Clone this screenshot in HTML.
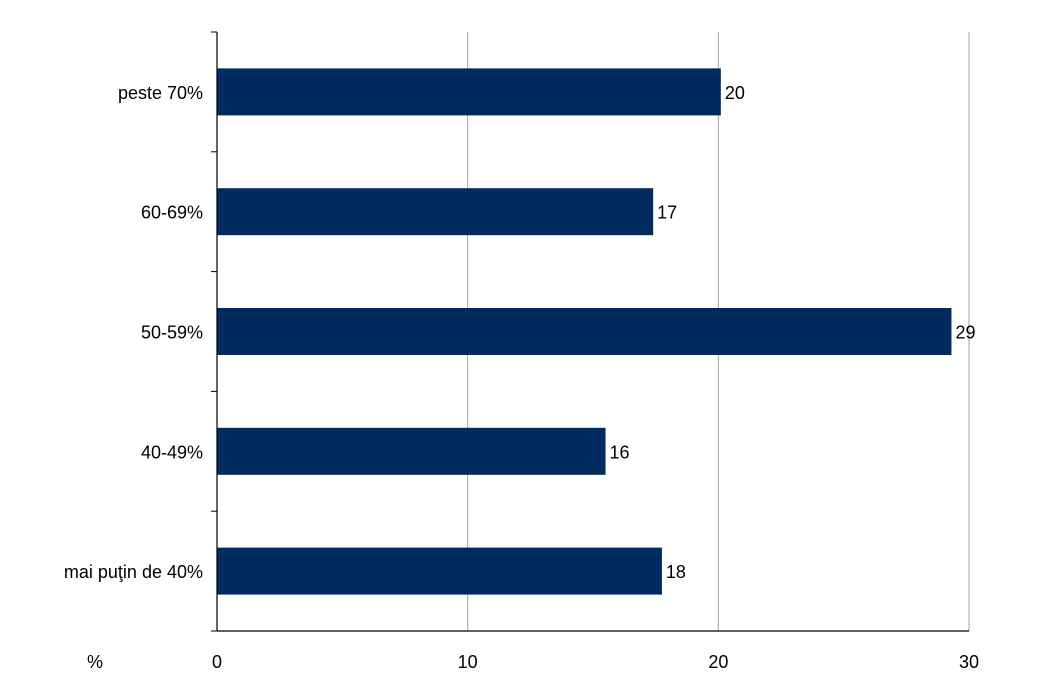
<!DOCTYPE html>
<html><head><meta charset="utf-8"><style>
body{margin:0;background:#fff}
svg{display:block;font-family:"Liberation Sans",sans-serif}
</style></head><body>
<svg id="chart" width="1050" height="700"></svg>
<script>
const categories=["peste 70%","60-69%","50-59%","40-49%","mai puţin de 40%"];
const values=[20.1,17.4,29.3,15.5,17.75];
const valueLabels=["20","17","29","16","18"];
const xTicks=[0,10,20,30];
const svg=document.getElementById('chart');
const NS='http://www.w3.org/2000/svg';
const x0=217,x1=969,yTop=32,yBot=631,xmax=30;
const xs=v=>x0+(x1-x0)*v/xmax;
const band=(yBot-yTop)/categories.length;
const yc=i=>yTop+band*(i+0.5);
function mk(t,a,txt){const e=document.createElementNS(NS,t);for(const k in a)e.setAttribute(k,a[k]);if(txt!==undefined)e.textContent=txt;svg.appendChild(e);return e;}
xTicks.forEach(t=>{
  if(t>0){const g=mk('line',{x1:xs(t),x2:xs(t),y1:yTop,y2:yBot,stroke:'#a0a0a0','stroke-width':1});
  
  }
  const l=mk('text',{x:xs(t),y:668,'text-anchor':'middle','font-size':18,fill:'#000'},String(t));
  
  
});
const pct=mk('text',{x:95,y:668,'text-anchor':'middle','font-size':18,fill:'#000'},'%');


const bh=47;
categories.forEach((c,i)=>{
  const r=mk('rect',{x:x0,y:yc(i)-bh/2,width:xs(values[i])-x0,height:bh,fill:'#002b5f'});
  
  
  const v=mk('text',{x:xs(values[i])+4,y:yc(i)+7,'font-size':18,fill:'#000'},valueLabels[i]);
  
  
  const cl=mk('text',{x:203,y:yc(i)+7,'text-anchor':'end','font-size':18,fill:'#000'},c);
  
  
});
for(let i=0;i<=categories.length;i++){
  const y=yTop+band*i;
  const t=mk('line',{x1:x0-6,x2:x0,y1:y,y2:y,stroke:'#000','stroke-width':1});
  
  
}
const ya=mk('line',{x1:x0,x2:x0,y1:yTop,y2:yBot,stroke:'#000','stroke-width':1.2});


const xa=mk('line',{x1:x0,x2:x1,y1:yBot,y2:yBot,stroke:'#000','stroke-width':1.2});


</script>
</body></html>
